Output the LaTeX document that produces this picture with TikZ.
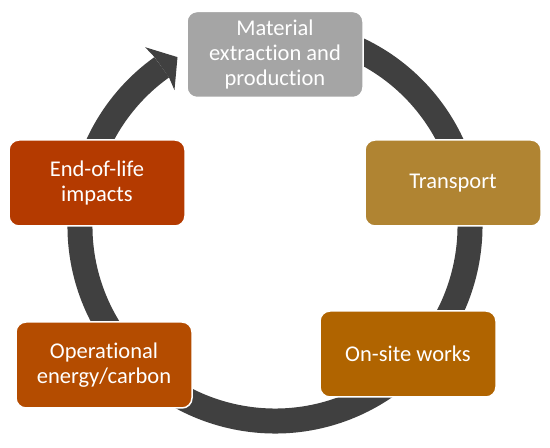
\documentclass[tikz,border=0pt]{standalone}
\usepackage{fontspec}
\setmainfont{Carlito}[Ligatures=NoCommon]
\usetikzlibrary{calc}
\definecolor{ringc}{HTML}{404040}
\definecolor{matc}{HTML}{A5A5A5}
\definecolor{trac}{HTML}{B08432}
\definecolor{onsc}{HTML}{B06400}
\definecolor{opec}{HTML}{B44C00}
\definecolor{eolc}{HTML}{B43A00}
\begin{document}
\begin{tikzpicture}[x=1pt,y=1pt,
  stagebox/.style={rectangle, rounded corners=10pt, draw=white, line width=1.5pt,
    minimum width=176pt, minimum height=86pt, inner sep=0pt, text=white,
    align=center, font=\fontsize{22.5}{25}\selectfont},
  ringline/.style={draw=ringc, line width=25pt}]
\useasboundingbox (0,0) rectangle (550,448);
\coordinate (ctr) at (275,222);
% ring
\draw[ringline] ($(ctr)+(80:195)$) arc[start angle=80, end angle=-234.5, radius=195];
\fill[ringc] ($(ctr)+(126:221)$) -- ($(ctr)+(120:195)$) -- ($(ctr)+(126.5:169)$) -- ($(ctr)+(125.5:182.5)$) -- ($(ctr)+(125.5:207.5)$) -- cycle;
% boxes
\node[stagebox, fill=matc] (mat) at (275,393.5) {Material\\extraction and\\production};
\node[stagebox, fill=trac] (tra) at (453,265) {Transport};
\node[stagebox, fill=onsc] (ons) at (408,94) {On-site works};
\node[stagebox, fill=opec] (ope) at (104,83) {Operational\\energy/carbon};
\node[stagebox, fill=eolc] (eol) at (97,265) {End-of-life\\impacts};
\end{tikzpicture}
\end{document}
